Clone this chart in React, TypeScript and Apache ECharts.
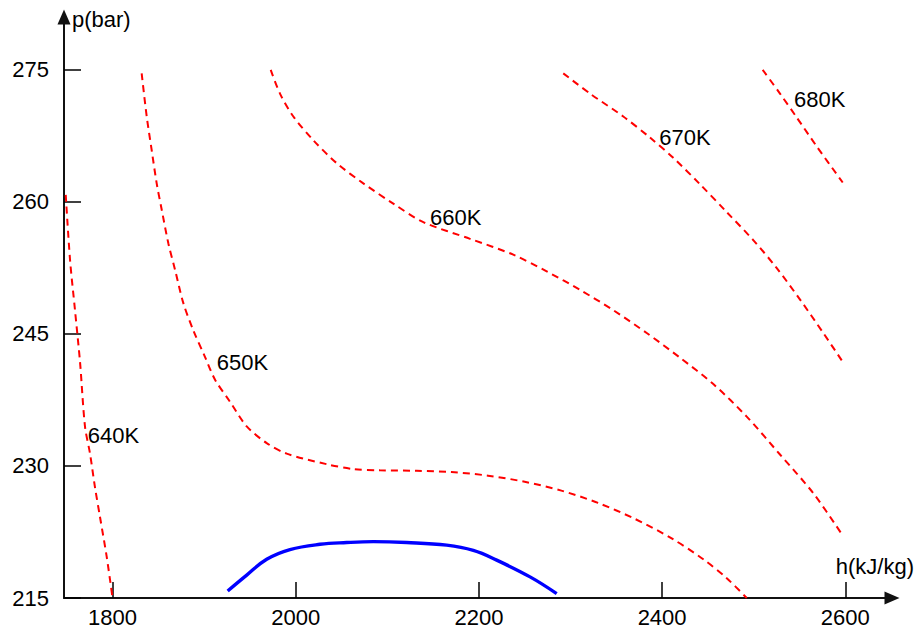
import React, { useEffect, useRef } from "react";
import * as echarts from "echarts";

const FONT = "'Liberation Sans', Arial, sans-serif";

const xTicks = [1800, 2000, 2200, 2400, 2600];
const yTicks = [215, 230, 245, 260, 275];

const iso640: number[][] = [
  [1748.9, 260.8], [1753.6, 253.4], [1759.0, 247.7], [1764.5, 241.8], [1769.9, 234.5],
  [1775.4, 231.4], [1780.8, 227.6], [1786.3, 224.2], [1793.6, 219.7], [1800, 215],
];

const iso650: number[][] = [
  [1831.8, 274.6], [1837.3, 269.7], [1842.7, 265.9], [1848.2, 262.1], [1853.7, 259.1],
  [1860.9, 255.3], [1868.2, 252.3], [1877.3, 248.5], [1888.2, 245.4], [1900.9, 242.4],
  [1911.9, 239.8], [1928.2, 237.3], [1946.5, 234.5], [1968.3, 232.6], [1990.1, 231.4],
  [2033.8, 230.2], [2062.9, 229.65], [2092.0, 229.5], [2132.1, 229.45],
  [2170.0, 229.3], [2210.0, 228.9], [2250.0, 228.2], [2290.0, 227.2], [2330.0, 225.8],
  [2370.0, 224.0], [2410.0, 221.8], [2445.0, 219.4], [2470.0, 217.3], [2492.4, 215],
];

const iso660: number[][] = [
  [1972.7, 275.0], [1982.8, 272.3], [1997.4, 269.7], [2019.2, 267.0], [2044.7, 264.4],
  [2073.8, 262.1], [2106.5, 259.8], [2139.3, 257.7], [2190.3, 255.8], [2237.5, 254.0],
  [2274.0, 252.1], [2310.4, 250.0], [2346.7, 247.7], [2383.2, 245.1], [2419.5, 242.3],
  [2455.9, 239.3], [2492.4, 235.6], [2528.7, 231.3], [2565.1, 226.9], [2597.8, 222.0],
];

const iso670: number[][] = [
  [2292.1, 274.6], [2321.3, 272.3], [2357.6, 269.7], [2386.8, 267.3], [2412.2, 265.0],
  [2441.4, 262.0], [2470.0, 258.9], [2500.0, 255.6], [2525.0, 252.5], [2550.6, 248.9],
  [2576.0, 245.1], [2596.1, 242.0],
];

const iso680: number[][] = [
  [2509.8, 275.0], [2528.7, 272.3], [2546.9, 269.6], [2568.8, 266.3], [2597.2, 262.2],
];

const blueCurve: number[][] = [
  [1925.7, 215.8], [1946.5, 217.6], [1968.3, 219.4], [1993.7, 220.5], [2026.5, 221.1],
  [2055.6, 221.3], [2084.7, 221.4], [2121.2, 221.3], [2164.8, 221.0], [2193.9, 220.4],
  [2219.4, 219.3], [2255.8, 217.4], [2284.9, 215.5],
];

const isoNames = ["640K", "650K", "660K", "670K", "680K"];
const isoLabelAnchors: number[][] = [
  [1772.9, 233.5], [1913.7, 241.7], [2146.6, 258.2], [2396.9, 267.3], [2544.0, 271.6],
];

export default function App() {
  const ref = useRef<HTMLDivElement>(null);

  useEffect(() => {
    if (!ref.current) return;
    const chart = echarts.init(ref.current, undefined, { renderer: "svg" });
    const isoLines = [iso640, iso650, iso660, iso670, iso680];
    const redStyle = { color: "#ff0000", width: 2, type: [7, 5] as number[] };

    chart.setOption({
      animation: false,
      backgroundColor: "#ffffff",
      grid: { left: 64, right: 24, top: 17, bottom: 33, outerBoundsMode: "none" },
      xAxis: {
        type: "value",
        min: 1747,
        max: 2651,
        splitLine: { show: false },
        axisLine: {
          show: true,
          onZero: false,
          symbol: ["none", "triangle"],
          symbolSize: [13, 15],
          lineStyle: { color: "#111111", width: 2 },
        },
        axisTick: {
          show: true,
          inside: true,
          length: 16,
          customValues: xTicks,
          lineStyle: { color: "#000000", width: 1.5 },
        },
        axisLabel: {
          customValues: xTicks,
          formatter: (v: number) => String(v),
          margin: 8,
          fontSize: 22,
          fontFamily: FONT,
          color: "#000000",
        },
      },
      yAxis: {
        type: "value",
        min: 215,
        max: 281,
        splitLine: { show: false },
        axisLine: {
          show: true,
          onZero: false,
          symbol: ["none", "triangle"],
          symbolSize: [13, 15],
          lineStyle: { color: "#111111", width: 2 },
        },
        axisTick: {
          show: true,
          inside: true,
          length: 17,
          customValues: yTicks,
          lineStyle: { color: "#000000", width: 1.5 },
        },
        axisLabel: {
          customValues: yTicks,
          formatter: (v: number) => String(v),
          margin: 15,
          fontSize: 22,
          fontFamily: FONT,
          color: "#000000",
        },
      },
      graphic: [
        {
          type: "text",
          x: 72,
          y: 19,
          style: {
            text: "p(bar)",
            fontSize: 22,
            fontFamily: FONT,
            fill: "#000000",
            align: "left",
            verticalAlign: "middle",
          },
        },
        {
          type: "text",
          x: 914,
          y: 566,
          style: {
            text: "h(kJ/kg)",
            fontSize: 22,
            fontFamily: FONT,
            fill: "#000000",
            align: "right",
            verticalAlign: "middle",
          },
        },
      ],
      series: [
        ...isoLines.map((d, i) => ({
          name: isoNames[i],
          type: "line",
          data: d,
          smooth: 0.3,
          showSymbol: false,
          clip: false,
          lineStyle: redStyle,
          z: 2,
        })),
        {
          name: "curve",
          type: "line",
          data: blueCurve,
          smooth: 0.4,
          showSymbol: false,
          clip: false,
          lineStyle: { color: "#0000ff", width: 3.4 },
          z: 3,
        },
        {
          name: "labels",
          type: "scatter",
          symbolSize: 0,
          clip: false,
          data: isoLabelAnchors.map((v, i) => ({ value: v, name: isoNames[i] })),
          label: {
            show: true,
            position: "right",
            distance: 0,
            formatter: "{b}",
            fontSize: 22,
            fontFamily: FONT,
            color: "#000000",
            opacity: 1,
          },
          z: 4,
        },
      ],
    });

    return () => chart.dispose();
  }, []);

  return (
    <div
      ref={ref}
      style={{ position: "absolute", left: 0, top: 0, width: 916, height: 631, background: "#fff" }}
    />
  );
}
